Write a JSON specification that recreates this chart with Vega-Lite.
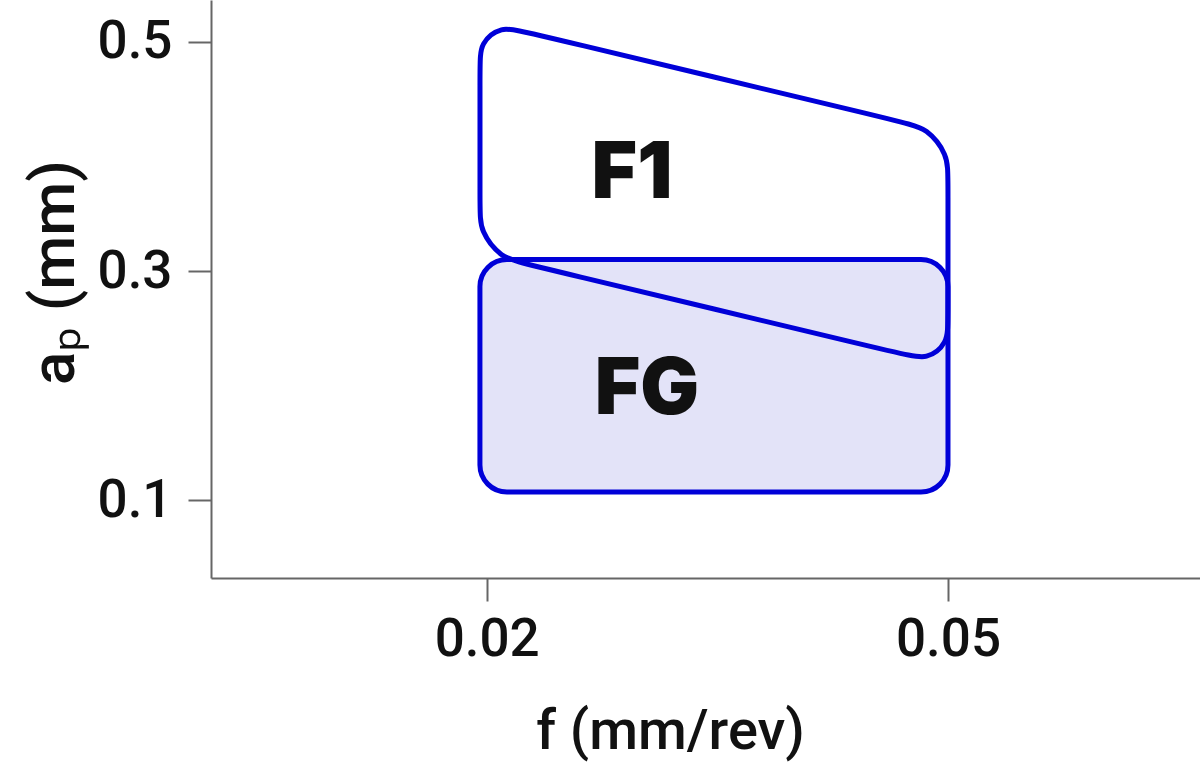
{
  "$schema": "https://vega.github.io/schema/vega-lite/v6.json",
  "width": 989,
  "height": 578,
  "autosize": {"type": "none"},
  "padding": {"left": 211, "top": 0, "right": 0, "bottom": 203},
  "background": "white",
  "config": {
    "view": {"stroke": null},
    "axis": {
      "grid": false,
      "domainColor": "#666666",
      "domainWidth": 2,
      "tickColor": "#666666",
      "tickWidth": 2,
      "tickSize": 23,
      "labelFont": "Roboto",
      "labelFontWeight": 500,
      "labelFontSize": 53,
      "labelColor": "#111111",
      "titleFont": "Roboto",
      "titleFontWeight": 500,
      "titleFontSize": 56,
      "titleColor": "#111111"
    }
  },
  "layer": [
    {
      "data": {"values": [{"zone": "FG", "f_lo": 0.01956, "f_hi": 0.05, "ap_lo": 0.1072, "ap_hi": 0.31}]},
      "mark": {"type": "rect", "cornerRadius": 27, "fill": "#e3e3f8", "stroke": "#0000d8", "strokeWidth": 5},
      "encoding": {
        "x": {
          "field": "f_lo", "type": "quantitative",
          "scale": {"domain": [0.00207, 0.06639], "nice": false, "zero": false},
          "axis": {
            "values": [0.02, 0.05], "format": ".2f",
            "labelPadding": 12,
            "title": "f (mm/rev)",
            "titleAnchor": null,
            "titleAlign": "center",
            "titleBaseline": "alphabetic",
            "titleX": 459,
            "titleY": 170
          }
        },
        "x2": {"field": "f_hi"},
        "y": {
          "field": "ap_lo", "type": "quantitative",
          "scale": {"domain": [0.0322, 0.5364], "nice": false, "zero": false},
          "axis": {
            "values": [0.1, 0.3, 0.5], "format": ".1f",
            "labelPadding": 16,
            "title": "aₚ (mm)",
            "titleFontSize": 62,
            "titleAngle": -90,
            "titleAlign": "center",
            "titleBaseline": "alphabetic",
            "titleX": -138,
            "titleY": 272
          }
        },
        "y2": {"field": "ap_hi"}
      }
    },
    {
      "data": {"values": [
        {"i": 1, "f": 0.019564, "ap": 0.47968},
        {"i": 2, "f": 0.019564, "ap": 0.49887},
        {"i": 3, "f": 0.020956, "ap": 0.51359},
        {"i": 4, "f": 0.022347, "ap": 0.50912},
        {"i": 5, "f": 0.047217, "ap": 0.4293},
        {"i": 6, "f": 0.048608, "ap": 0.42483},
        {"i": 7, "f": 0.05, "ap": 0.40118},
        {"i": 8, "f": 0.05, "ap": 0.38199},
        {"i": 9, "f": 0.05, "ap": 0.25639},
        {"i": 10, "f": 0.05, "ap": 0.2372},
        {"i": 11, "f": 0.048608, "ap": 0.22248},
        {"i": 12, "f": 0.047217, "ap": 0.22694},
        {"i": 13, "f": 0.022347, "ap": 0.30677},
        {"i": 14, "f": 0.020956, "ap": 0.31123},
        {"i": 15, "f": 0.019564, "ap": 0.33489},
        {"i": 16, "f": 0.019564, "ap": 0.35408}
      ]},
      "mark": {"type": "line", "interpolate": "basis-closed", "stroke": "#0000d8", "strokeWidth": 5},
      "encoding": {
        "x": {"field": "f", "type": "quantitative"},
        "y": {"field": "ap", "type": "quantitative"},
        "order": {"field": "i", "type": "quantitative"}
      }
    },
    {
      "data": {"values": [
        {"label": "F1", "f": 0.02945, "ap": 0.384},
        {"label": "FG", "f": 0.03042, "ap": 0.195}
      ]},
      "mark": {"type": "text", "font": "Inter", "fontWeight": 900, "fontSize": 78, "color": "#111111", "align": "center", "baseline": "middle"},
      "encoding": {
        "x": {"field": "f", "type": "quantitative"},
        "y": {"field": "ap", "type": "quantitative"},
        "text": {"field": "label"}
      }
    }
  ]
}
